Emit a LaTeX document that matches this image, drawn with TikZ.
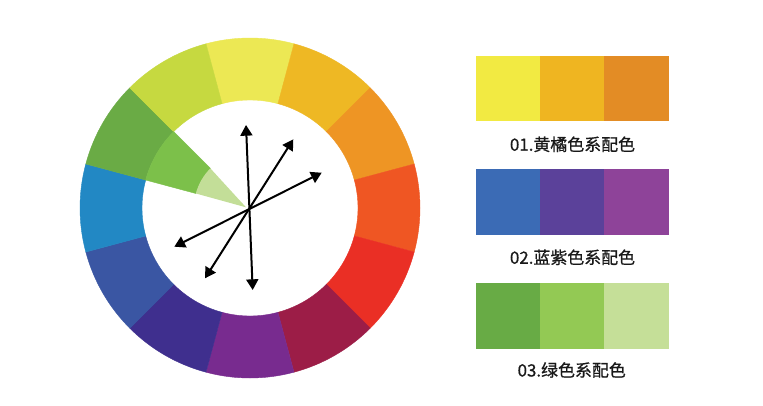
\documentclass[tikz,border=0pt]{standalone}
\usepackage{fontspec}
\newfontfamily\cjk{Noto Sans CJK SC}[FakeBold=0.7]
\usetikzlibrary{arrows.meta}
\definecolor{w90}{HTML}{ECE854}
\definecolor{w60}{HTML}{EEB824}
\definecolor{w30}{HTML}{EE9524}
\definecolor{w0}{HTML}{EF5623}
\definecolor{wm30}{HTML}{EA2F25}
\definecolor{wm60}{HTML}{9C1D47}
\definecolor{wm90}{HTML}{782B8F}
\definecolor{wm120}{HTML}{3F2F8E}
\definecolor{wm150}{HTML}{3A56A3}
\definecolor{w180}{HTML}{2288C4}
\definecolor{w150}{HTML}{6AAB45}
\definecolor{w120}{HTML}{C6D940}
\definecolor{gmid}{HTML}{7CC04A}
\definecolor{glight}{HTML}{C3DE98}
\definecolor{sa1}{HTML}{F2EA42}
\definecolor{sa2}{HTML}{EFB521}
\definecolor{sa3}{HTML}{E38C25}
\definecolor{sb1}{HTML}{3B6BB5}
\definecolor{sb2}{HTML}{5B419A}
\definecolor{sb3}{HTML}{8E4399}
\definecolor{sc1}{HTML}{68AB45}
\definecolor{sc2}{HTML}{93C954}
\definecolor{sc3}{HTML}{C5DF98}
\tikzset{
  swatch/.style={draw=none, minimum width=48.6pt, minimum height=49.1pt, inner sep=0pt, outer sep=0pt},
  lbl/.style={font=\cjk\fontsize{12.7pt}{15pt}\selectfont, text=black!90, inner sep=0pt},
  dbl/.style={line width=1.5pt, {Triangle[length=8pt,width=9pt]}-{Triangle[length=8pt,width=9pt]}}
}
\newcommand{\wseg}[2]{%
  \filldraw[fill=#2, draw=#2, line width=0.3pt] (#1-15:108) -- (#1-15:170) arc[start angle=#1-15, end angle=#1+15, radius=170] -- (#1+15:108) arc[start angle=#1+15, end angle=#1-15, radius=108] -- cycle;}
\begin{document}
\begin{tikzpicture}[x=0.75pt,y=0.75pt]
\useasboundingbox (0,0) rectangle (763,405);
\fill[white] (0,0) rectangle (763,405);
\begin{scope}[shift={(250,197)}]
  \wseg{90}{w90}
  \wseg{60}{w60}
  \wseg{30}{w30}
  \wseg{0}{w0}
  \wseg{-30}{wm30}
  \wseg{-60}{wm60}
  \wseg{-90}{wm90}
  \wseg{-120}{wm120}
  \wseg{-150}{wm150}
  \wseg{180}{w180}
  \wseg{150}{w150}
  \wseg{120}{w120}
  \filldraw[fill=gmid, draw=gmid, line width=0.3pt] (135:56) -- (135:108) arc[start angle=135, end angle=165, radius=108] -- (165:56) arc[start angle=165, end angle=135, radius=56] -- cycle;
  \fill[glight] (-4,0.7) -- (135:56) arc[start angle=135, end angle=165, radius=56] -- cycle;
\end{scope}
\coordinate (up) at (246,280);
\coordinate (dn) at (252.7,115);
\coordinate (ur) at (293.3,265.7);
\coordinate (dl) at (205,126.7);
\coordinate (rt) at (321.7,232.3);
\coordinate (lf) at (174.3,158.3);
\draw[dbl] (dn) -- (up);
\draw[dbl] (dl) -- (ur);
\draw[dbl] (lf) -- (rt);
% swatches
\node[swatch, fill=sa1] (a1) at (507.9,316.7) {};
\node[swatch, fill=sa2] (a2) at (572.3,316.7) {};
\node[swatch, fill=sa3] (a3) at (636.7,316.7) {};
\node[lbl] (la) at (572.5,260.7) {01.黄橘色系配色};
\node[swatch, fill=sb1] (b1) at (507.9,202.8) {};
\node[swatch, fill=sb2] (b2) at (572.3,202.8) {};
\node[swatch, fill=sb3] (b3) at (636.7,202.8) {};
\node[lbl] (lb) at (572.5,147.7) {02.蓝紫色系配色};
\node[swatch, fill=sc1] (c1) at (507.9,88.8) {};
\node[swatch, fill=sc2] (c2) at (572.3,88.8) {};
\node[swatch, fill=sc3] (c3) at (636.7,88.8) {};
\node[lbl] (lc) at (571.7,35) {03.绿色系配色};
\end{tikzpicture}
\end{document}
